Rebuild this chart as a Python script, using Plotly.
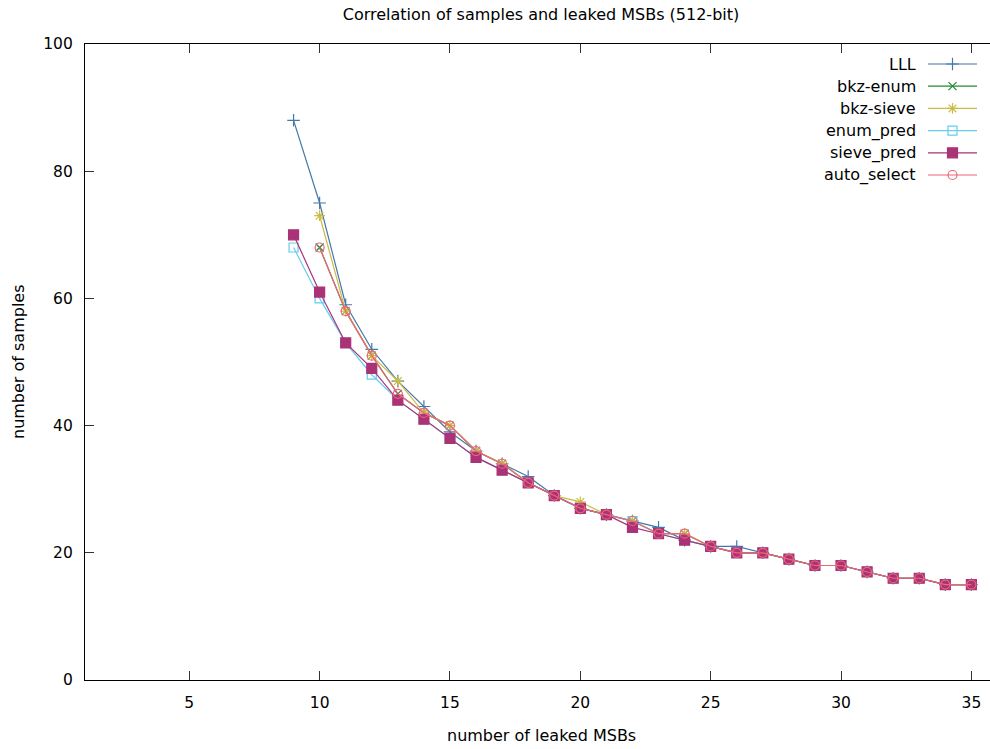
import plotly.graph_objects as go

# ---------------- data ----------------
x_all = list(range(9, 36))
x_from10 = list(range(10, 36))

lll = [88, 75, 59, 52, 47, 43, 39, 36, 34, 32, 29, 27, 26, 25, 24, 22, 21, 21,
       20, 19, 18, 18, 17, 16, 16, 15, 15]
bkz_enum = [68, 58, 51, 45, 42, 40, 36, 34, 31, 29, 27, 26, 25, 23, 23, 21, 20,
            20, 19, 18, 18, 17, 16, 16, 15, 15]
bkz_sieve = [73, 58, 51, 47, 42, 40, 36, 34, 31, 29, 28, 26, 25, 23, 23, 21, 20,
             20, 19, 18, 18, 17, 16, 16, 15, 15]
enum_pred = [68, 60, 53, 48, 44, 41, 38, 35, 33, 31, 29, 27, 26, 25, 23, 22, 21,
             20, 20, 19, 18, 18, 17, 16, 16, 15, 15]
sieve_pred = [70, 61, 53, 49, 44, 41, 38, 35, 33, 31, 29, 27, 26, 24, 23, 22, 21,
              20, 20, 19, 18, 18, 17, 16, 16, 15, 15]
auto_select = [68, 58, 51, 45, 42, 40, 36, 34, 31, 29, 27, 26, 25, 23, 23, 21, 20,
               20, 19, 18, 18, 17, 16, 16, 15, 15]

series_names = ["LLL", "bkz-enum", "bkz-sieve", "enum_pred", "sieve_pred", "auto_select"]
series_x = [x_all, x_from10, x_from10, x_all, x_all, x_from10]
series_y = [lll, bkz_enum, bkz_sieve, enum_pred, sieve_pred, auto_select]

x_ticks = [5, 10, 15, 20, 25, 30, 35]
y_ticks = [0, 20, 40, 60, 80, 100]

title_text = "Correlation of samples and leaked MSBs (512-bit)"
x_title = "number of leaked MSBs"
y_title = "number of samples"

# ---------------- styles ----------------
colors = ["#4477AA", "#228833", "#CCBB44", "#66CCEE", "#AA3377", "#EE6677"]
symbols = ["cross-thin-open", "x-thin-open", "asterisk-open", "square-open", "square", "circle-open"]
msizes = [9, 8, 9, 9, 10, 9]

FONT = "DejaVu Sans"
FS = 16
FS_TICK = 15.5
W, H = 990, 749
L, R, T, B = 85, 0, 44, 69
PW, PH = W - L - R, H - T - B


def px_to_paper_x(px):
    return (px - L) / PW


def px_to_paper_y(py):
    return (H - B - py) / PH


fig = go.Figure()

for name, xs, ys, c, s, ms in zip(series_names, series_x, series_y, colors, symbols, msizes):
    fig.add_trace(go.Scatter(
        x=xs, y=ys, name=name, mode="lines+markers",
        line=dict(color=c, width=1.2),
        marker=dict(symbol=s, size=ms, color=c, line=dict(color=c, width=1.2)),
        showlegend=False, cliponaxis=False,
    ))

# ---------------- manual gnuplot-style key (pixel coordinates on overlay axes) ----------------
key_top = 64
key_step = 22.2
key_x0, key_x1, key_xm = 928, 977, 952.5
key_text_right = 918
for i, (name, c, s, ms) in enumerate(zip(series_names, colors, symbols, msizes)):
    ky = key_top + i * key_step
    fig.add_trace(go.Scatter(
        x=[key_x0, key_x1], y=[ky, ky], mode="lines", xaxis="x2", yaxis="y2",
        line=dict(color=c, width=1.2), showlegend=False, hoverinfo="skip",
    ))
    fig.add_trace(go.Scatter(
        x=[key_xm], y=[ky], mode="markers", xaxis="x2", yaxis="y2",
        marker=dict(symbol=s, size=ms, color=c, line=dict(color=c, width=1.2)),
        showlegend=False, hoverinfo="skip",
    ))
    fig.add_annotation(
        x=key_text_right, y=ky, xref="x2", yref="y2", text=name, showarrow=False,
        xanchor="right", yanchor="middle", font=dict(family=FONT, size=FS, color="black"),
    )

# axis titles
fig.add_annotation(
    x=px_to_paper_x(541), y=px_to_paper_y(735), xref="paper", yref="paper", text=x_title,
    showarrow=False, xanchor="center", yanchor="middle",
    font=dict(family=FONT, size=FS, color="black"),
)
fig.add_annotation(
    x=px_to_paper_x(18), y=px_to_paper_y(362), xref="paper", yref="paper",
    text=y_title, showarrow=False, textangle=-90,
    xanchor="center", yanchor="middle", font=dict(family=FONT, size=FS, color="black"),
)

# x range so that x=1 sits on the left border and 1 unit ~ 26.07 px
px_per_unit = 26.07
x_max = 1 + PW / px_per_unit

fig.update_layout(
    width=W, height=H,
    margin=dict(l=L, r=R, t=T, b=B, pad=0),
    paper_bgcolor="white", plot_bgcolor="white",
    font=dict(family=FONT, size=FS, color="black"),
    title=dict(text=title_text, x=541 / W, xref="container", xanchor="center",
               y=1 - 14 / H, yref="container", yanchor="middle",
               font=dict(family=FONT, size=FS, color="black")),
    xaxis=dict(range=[1, x_max], tickvals=x_ticks, ticks="inside", ticklen=9,
               tickcolor="#333333", tickwidth=1, showline=True, linecolor="black",
               linewidth=1.3, mirror="ticks", showgrid=False, zeroline=False,
               ticklabelstandoff=8, fixedrange=True, tickfont=dict(size=FS_TICK)),
    yaxis=dict(range=[0, 100], tickvals=y_ticks, ticks="inside", ticklen=9,
               tickcolor="#333333", tickwidth=1, showline=True, linecolor="black",
               linewidth=1.3, mirror=False, showgrid=False, zeroline=False,
               ticklabelstandoff=8, fixedrange=True, tickfont=dict(size=FS_TICK)),
    xaxis2=dict(overlaying="x", range=[L, W - R], visible=False, fixedrange=True),
    yaxis2=dict(overlaying="y", range=[H - B, T], visible=False, fixedrange=True),
    showlegend=False,
)

fig.write_html("out.html", config={"displayModeBar": False},
               post_script="document.body.style.margin='0';")
